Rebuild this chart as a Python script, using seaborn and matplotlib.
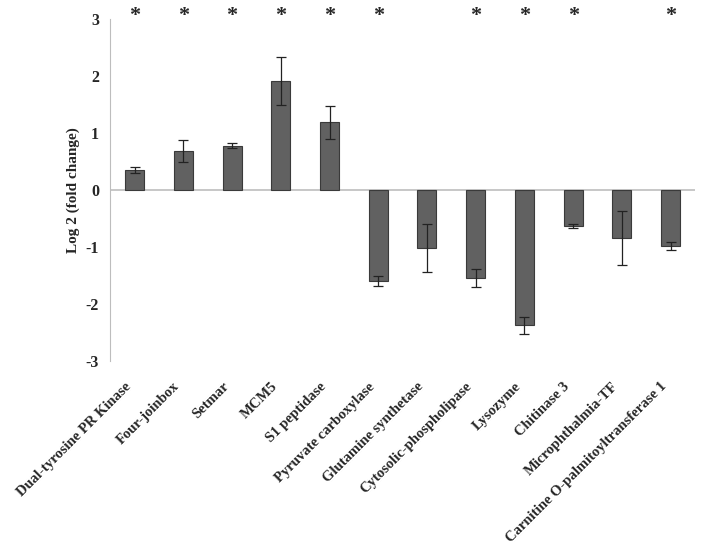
import numpy as np
import pandas as pd
import seaborn as sns
import matplotlib.pyplot as plt

genes = ["Dual-tyrosine PR Kinase", "Four-joinbox", "Setmar", "MCM5", "S1 peptidase",
         "Pyruvate carboxylase", "Glutamine synthetase", "Cytosolic-phospholipase",
         "Lysozyme", "Chitinase 3", "Microphthalmia-TF", "Carnitine O-palmitoyltransferase 1"]
log2_fc = [0.35, 0.68, 0.78, 1.91, 1.19, -1.60, -1.02, -1.54, -2.37, -0.63, -0.84, -0.99]
err = [0.05, 0.19, 0.05, 0.42, 0.29, 0.09, 0.42, 0.16, 0.15, 0.04, 0.48, 0.07]
significant = [True, True, True, True, True, True, False, True, True, True, False, True]

df = pd.DataFrame({"gene": genes, "fc": log2_fc, "err": err})

sns.set_style("white")
plt.rcParams['font.family'] = ['Liberation Serif', 'DejaVu Serif']

fig = plt.figure(figsize=(7.02, 5.5), dpi=100)
ax = fig.add_axes([0.157, 0.3436, 0.833, 0.6219])

sns.barplot(data=df, x="gene", y="fc", color="#616161", width=0.39,
            edgecolor="#3a3a3a", linewidth=0.8, saturation=1, ax=ax)
ax.errorbar(np.arange(len(genes)), df["fc"], yerr=df["err"], fmt="none",
            ecolor="#222222", elinewidth=0.9, capsize=3.5, capthick=0.9)

# significance marks above the plot
for i, s in enumerate(significant):
    if s:
        ax.text(i, 3.06, "*", ha="center", va="center", fontsize=16,
                fontweight="bold", clip_on=False)

ax.set_ylim(-3, 3)
ax.set_xlim(-0.5, len(genes) - 0.5)
ax.set_yticks([-3, -2, -1, 0, 1, 2, 3])
ax.set_yticklabels(["-3", "-2", "-1", "0", "1", "2", "3"], fontsize=11.5, fontweight="bold")
ax.axhline(0, color="#bdbdbd", linewidth=1.2, zorder=0)

for side in ["top", "right", "bottom"]:
    ax.spines[side].set_visible(False)
ax.spines["left"].set_color("#bdbdbd")
ax.tick_params(axis="y", direction="out", length=4, color="#bdbdbd", pad=4)
ax.tick_params(axis="x", length=0)

# rotated gene names below the plot area
ax.set_xticks(np.arange(len(genes)))
ax.set_xticklabels([])
for i, g in enumerate(genes):
    ax.annotate(g, xy=(i, -3), xytext=(-4, -17), textcoords="offset points",
                rotation=45, ha="right", va="center", rotation_mode="anchor",
                fontsize=10.5, fontweight="bold", annotation_clip=False)

ax.set_xlabel("")
ax.set_ylabel("Log 2 (fold change)", fontsize=11, fontweight="bold", labelpad=4)

fig.savefig("out.png", dpi=100)
